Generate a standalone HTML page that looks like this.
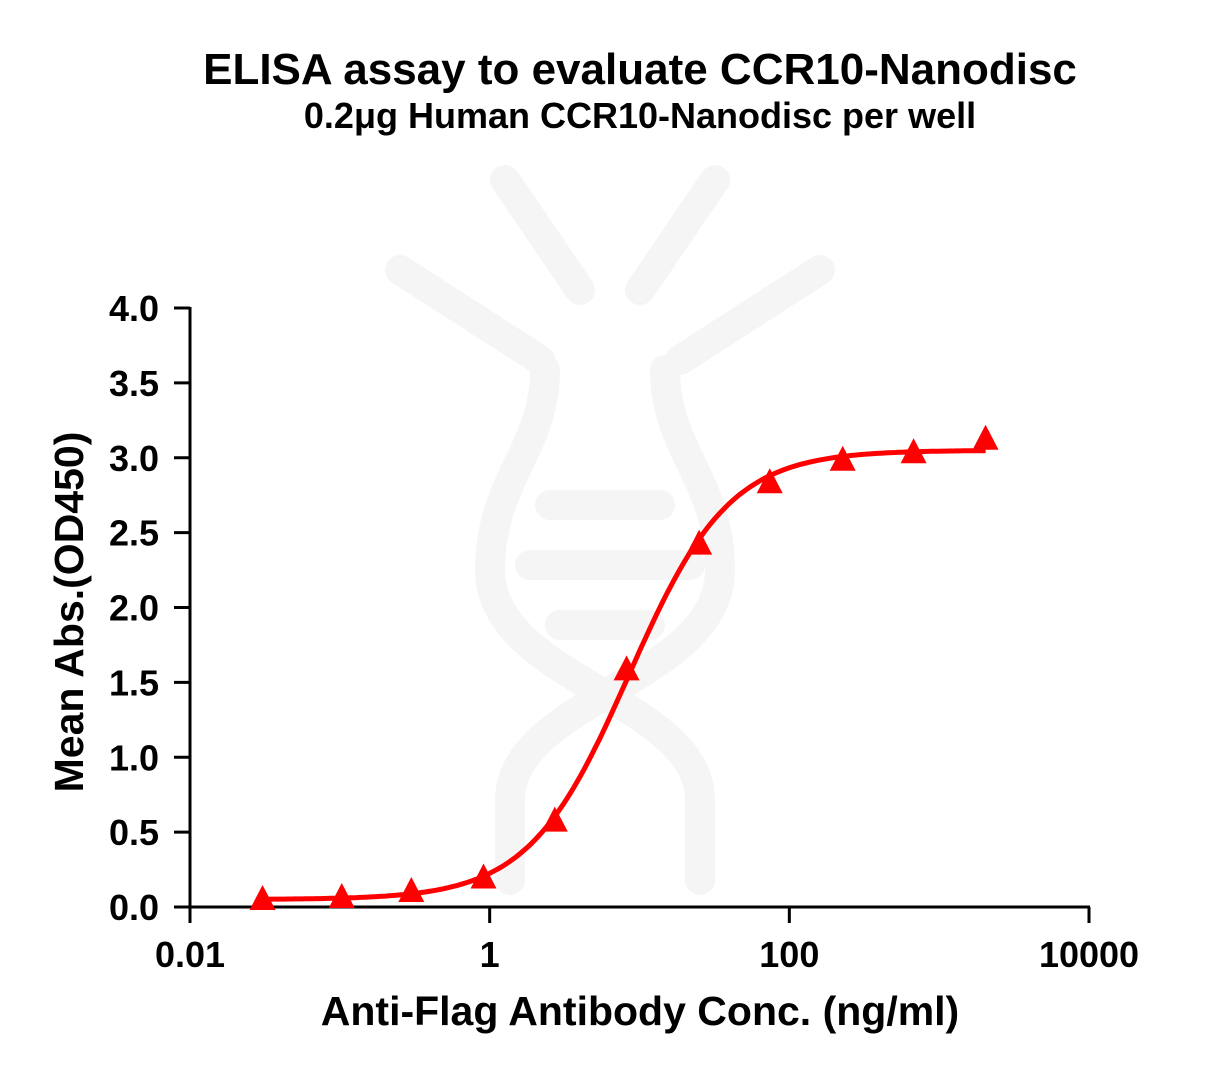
<!DOCTYPE html>
<html><head><meta charset="utf-8"><style>
body{margin:0;background:#fff;}
svg{display:block;font-family:"Liberation Sans",Arial,sans-serif;font-weight:bold;}
</style></head><body>
<svg width="1217" height="1075" viewBox="0 0 1217 1075">
<g fill="none" stroke="#f5f5f5" stroke-width="30" stroke-linecap="round">
<path d="M505 180 L580 290 M715 180 L640 290 M400 270 L540 360 M820 270 L680 360"/>
<path d="M545 370 C545 450 490 480 490 570 C490 680 700 700 700 800 L700 880 M665 370 C665 450 720 480 720 570 C720 680 510 700 510 800 L510 880"/>
<path d="M550 505 L660 505 M530 565 L690 565 M560 625 L650 625"/>
</g>
<text x="640" y="84" text-anchor="middle" font-size="44">ELISA assay to evaluate CCR10-Nanodisc</text>
<text x="640" y="128" text-anchor="middle" font-size="36">0.2μg Human CCR10-Nanodisc per well</text>
<g id="axes"></g>
<g id="plot"></g>
<text x="640" y="1025" text-anchor="middle" font-size="41">Anti-Flag Antibody Conc. (ng/ml)</text>
<text transform="translate(83,612) rotate(-90)" text-anchor="middle" font-size="41">Mean Abs.(OD450)</text>
</svg>
<script>
const concentrations=[0.0305,0.103,0.30,0.91,2.72,8.2,25,74,227,675,2040];
const absorbance=[0.047,0.06,0.10,0.19,0.57,1.58,2.42,2.83,2.98,3.03,3.12];
const xTicks=[0.01,1,100,10000];
const xTickLabels=["0.01","1","100","10000"];
const yTicks=[0,0.5,1,1.5,2,2.5,3,3.5,4];
const yTickLabels=["0.0","0.5","1.0","1.5","2.0","2.5","3.0","3.5","4.0"];
const fitBottom=[0.05],fitTop=[3.05],fitEC50=[8.5],fitHill=[1.3];
const NS="http://www.w3.org/2000/svg";
const X0=190,X1=1089,Y0=907,Y1=308;
const xs=v=>X0+(Math.log10(v)+2)/6*(X1-X0);
const ys=v=>Y0-v/4*(Y0-Y1);
function mk(t,a,p){const e=document.createElementNS(NS,t);for(const k in a)e.setAttribute(k,a[k]);p.appendChild(e);return e;}
const ax=document.getElementById('axes'),pl=document.getElementById('plot');
let l=mk('line',{x1:X0,y1:Y0,x2:X1+1,y2:Y0,stroke:'#000','stroke-width':3},ax);


l=mk('line',{x1:X0,y1:Y0+1,x2:X0,y2:Y1-1,stroke:'#000','stroke-width':3},ax);


xTicks.forEach((v,i)=>{const x=xs(v);
const t=mk('line',{x1:x,y1:Y0,x2:x,y2:Y0+16,stroke:'#000','stroke-width':3},ax);


const tx=mk('text',{x:x,y:Y0+60,'text-anchor':'middle','font-size':36},ax);tx.textContent=xTickLabels[i];

});
yTicks.forEach((v,i)=>{const y=ys(v);
const t=mk('line',{x1:X0-16,y1:y,x2:X0,y2:y,stroke:'#000','stroke-width':3},ax);


const tx=mk('text',{x:X0-31,y:y+13,'text-anchor':'end','font-size':36},ax);tx.textContent=yTickLabels[i];

});
const f=c=>fitBottom[0]+(fitTop[0]-fitBottom[0])/(1+Math.pow(fitEC50[0]/c,fitHill[0]));
let d='';const lo=Math.log10(concentrations[0]),hi=Math.log10(concentrations[concentrations.length-1]);
for(let i=0;i<=200;i++){const c=Math.pow(10,lo+(hi-lo)*i/200);d+=(i?'L':'M')+xs(c).toFixed(1)+' '+ys(f(c)).toFixed(1);}
const cv=mk('path',{d:d,fill:'none',stroke:'#f00','stroke-width':5},pl);


concentrations.forEach((c,i)=>{const x=xs(c),y=ys(absorbance[i]);
const p=mk('polygon',{points:`${x},${y-15} ${x-13},${y+10} ${x+13},${y+10}`,fill:'#f00'},pl);

});
</script>
</body></html>
